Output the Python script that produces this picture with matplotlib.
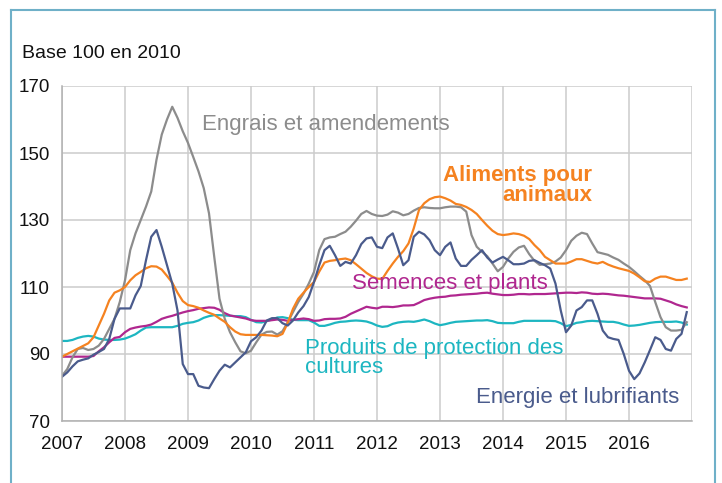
import matplotlib
matplotlib.use("Agg")
import matplotlib.pyplot as plt
from matplotlib.lines import Line2D
import numpy as np

plt.rcParams['font.family'] = ['Liberation Sans', 'DejaVu Sans']

years = [2007, 2008, 2009, 2010, 2011, 2012, 2013, 2014, 2015, 2016]
yticks = [70, 90, 110, 130, 150, 170]

engrais = [83.5, 85.5, 89, 91.5, 91.8, 91.2, 91.5, 92.5, 94.5, 97.5, 100.5, 105.5,
           112, 121, 126, 130, 134, 138.5, 148, 155.5, 160, 163.8, 160.5, 156.5,
           153, 148.8, 144.5, 139.5, 132, 119, 106.5, 100.5, 96.5, 93.5, 90.8, 90.2,
           91, 93.5, 95.8, 96.6, 96.7, 95.8, 96.8, 99.5, 102.5, 105.5, 108, 111,
           114.5, 121, 124.3, 124.8, 125, 125.8, 126.5, 128, 129.8, 131.8, 132.7, 131.8,
           131.3, 131.2, 131.6, 132.6, 132.2, 131.4, 131.8, 132.8, 133.6, 133.8, 133.6, 133.5,
           133.5, 133.8, 134, 134, 133.8, 132.5, 125.5, 122, 120.5, 119.2, 117, 114.7,
           116, 118.5, 120.5, 121.8, 122.3, 119.8, 117.8, 116.6, 116.8, 117, 117.6, 118.8,
           121, 123.8, 125.3, 126.2, 125.8, 123, 120.4, 120, 119.6, 118.8, 118.1, 117,
           116, 114.7, 113.3, 112, 110.3, 105.5, 101, 98, 97, 97, 97.2, 99.5]

aliments = [89.2, 90, 90.8, 91.6, 92.4, 93.2, 95, 98.5, 102, 106, 108.3, 109,
            110, 112, 113.5, 114.5, 115.6, 116.2, 116.1, 115.2, 113.3, 111.3, 108.3, 105.8,
            104.6, 104.3, 103.8, 103, 102.3, 101.7, 100.6, 99.6, 98, 96.7, 95.9, 95.7,
            95.7, 95.7, 95.7, 95.6, 95.5, 95.3, 96, 99.3, 103.5, 106.5, 108.3, 110,
            111.5, 114.6, 117.3, 117.8, 118, 118.3, 118.5, 118, 116.8, 115.5, 114.2, 113.2,
            112.5, 112.4, 114.8, 117, 119, 120.7, 123, 127.5, 133, 135, 136.2, 136.8,
            137, 136.5, 135.8, 134.8, 134.5, 133.9, 133, 131.8, 130, 128.3, 126.8, 125.8,
            125.5, 125.7, 126, 125.8, 125.3, 124.3, 122.5, 121, 119, 118, 117, 117,
            117, 117.6, 118.3, 118.3, 117.8, 117.3, 117, 117.5, 116.7, 116.1, 115.6, 115.2,
            114.8, 114, 112.9, 111.7, 111.5, 112.5, 113.1, 113.1, 112.6, 112.1, 112.1, 112.5]

energie = [83.2, 84.5, 86.3, 87.8, 88.3, 88.7, 89.8, 90.6, 91.5, 94.5, 100.5, 103.6,
           103.6, 103.6, 107.5, 110.3, 118, 125, 127, 122, 116.5, 111, 103, 87,
           84, 84, 80.5, 80, 79.8, 82.5, 85, 86.8, 86, 87.5, 89, 90.5,
           93.8, 95, 97, 100, 100.7, 100.7, 99.2, 98.5, 100, 102.4, 104.3, 107,
           111.5, 116.5, 121, 122.3, 119.5, 116.3, 117.5, 117, 119.5, 122.8, 124.5, 124.8,
           122, 121.6, 124.8, 126, 121.5, 116.5, 118, 125, 126.5, 125.7, 124, 121,
           119.5, 122, 123.3, 118.5, 116.3, 116.3, 118.1, 119.5, 121, 118.8, 117.3, 118.2,
           119, 118, 116.8, 116.8, 117, 117.8, 118, 117.2, 116.5, 115.5, 111, 103,
           96.5, 98.5, 103, 104, 106, 106, 102, 97, 95, 94.5, 94.2, 90,
           85, 82.5, 84.2, 87.5, 91.2, 95, 94.2, 91.5, 91, 94.5, 96, 102.5]

semences = [89.2, 89.2, 89.2, 89.2, 89.2, 89.2, 89.4, 90.8, 92, 93.5, 94.8, 95.1,
            96.5, 97.5, 97.9, 98.2, 98.4, 98.8, 99.6, 100.5, 101, 101.4, 101.9, 102.4,
            102.8, 103.1, 103.5, 103.7, 103.9, 103.8, 103.2, 102.2, 101.5, 101.2, 100.9, 100.6,
            100.1, 99.9, 99.9, 99.9, 100.1, 100.3, 100.2, 99.9, 100.2, 100.4, 100.6, 100.4,
            99.9, 100, 100.4, 100.5, 100.5, 100.6, 101.1, 102, 102.7, 103.4, 104.1, 103.8,
            103.6, 104.1, 104.1, 104, 104.2, 104.5, 104.5, 104.6, 105.3, 106.1, 106.5, 106.8,
            107, 107.1, 107.4, 107.5, 107.7, 107.8, 107.9, 108, 108.2, 108.3, 108, 107.8,
            107.6, 107.6, 107.7, 107.9, 107.9, 107.8, 107.9, 107.9, 107.9, 108, 108.1, 108.2,
            108.3, 108.3, 108.2, 108.4, 108.3, 108, 107.9, 108, 107.9, 107.7, 107.5, 107.4,
            107.2, 107, 106.8, 106.6, 106.6, 106.6, 106.5, 106, 105.5, 104.8, 104.3, 103.9]

produits = [93.9, 93.9, 94.2, 94.8, 95.2, 95.4, 95.2, 94.6, 94.3, 94.2, 94.2, 94.3,
            94.6, 95.2, 95.9, 97, 97.9, 98, 98, 98, 98, 98, 98.4, 99,
            99.3, 99.5, 100, 100.8, 101.3, 101.6, 101.6, 101.5, 101.4, 101.3, 101.3, 101,
            100.2, 99.5, 99.4, 99.8, 100.3, 100.9, 101, 100.7, 100.2, 100.1, 100.1, 100.1,
            99.4, 98.4, 98.4, 98.8, 99.3, 99.6, 99.7, 99.9, 100, 99.9, 99.7, 99.2,
            98.5, 98.1, 98.3, 99, 99.4, 99.6, 99.7, 99.6, 99.9, 100.3, 99.8, 99.1,
            98.6, 98.9, 99.3, 99.6, 99.7, 99.8, 99.9, 100, 100, 100.1, 99.8, 99.3,
            99.2, 99.2, 99.2, 99.6, 99.9, 99.9, 99.9, 99.9, 99.9, 99.9, 99.8, 99.2,
            98.3, 98.7, 99.3, 99.5, 99.8, 99.9, 99.8, 99.7, 99.6, 99.6, 99.3, 98.8,
            98.4, 98.5, 98.7, 99, 99.3, 99.5, 99.6, 99.6, 99.6, 99.7, 99.4, 98.8]

t = 2007 + np.arange(len(engrais)) / 12.0

C_GRAY = '#8c8c8c'
C_ORANGE = '#f58220'
C_MAG = '#b0278f'
C_CYAN = '#1db6c1'
C_BLUE = '#4a5b8c'

W, H = 722, 483
fig = plt.figure(figsize=(W / 100, H / 100), dpi=100)
ax = fig.add_axes([62 / W, 62 / H, 630 / W, 335 / H])

ax.plot(t, produits, color=C_CYAN, lw=1.6)
ax.plot(t, semences, color=C_MAG, lw=1.6)
ax.plot(t, engrais, color=C_GRAY, lw=1.6)
ax.plot(t, aliments, color=C_ORANGE, lw=1.6)
ax.plot(t, energie, color=C_BLUE, lw=1.6)

ax.set_xlim(2007, 2017)
ax.set_ylim(70, 170)
ax.set_yticks(yticks)
ax.set_yticklabels([str(v) for v in yticks], fontsize=13.5)
ax.set_xticks(years + [2017])
ax.set_xticklabels([str(y) for y in years] + [''], fontsize=13.5)
ax.tick_params(axis='both', length=0, colors='#111111')
ax.tick_params(axis='y', pad=9)
ax.tick_params(axis='x', pad=11)
ax.grid(True, color='#cccccc', lw=1.1)
ax.set_axisbelow(True)
for s in ['top', 'right']:
    ax.spines[s].set_visible(False)
for s in ['left', 'bottom']:
    ax.spines[s].set_color('#b0b0b0')
    ax.spines[s].set_linewidth(1.1)

FS = 16
ax.text(2009.22, 158.5, 'Engrais et amendements', color=C_GRAY, fontsize=FS,
        va='center', ha='left')
ax.text(2015.42, 140.2, 'Aliments pour\nanimaux', color=C_ORANGE, fontsize=FS,
        fontweight='bold', va='center', ha='right', multialignment='right',
        linespacing=0.95)
ax.text(2011.6, 110.9, 'Semences et plants', color=C_MAG, fontsize=FS,
        va='center', ha='left')
ax.text(2010.86, 88.8, 'Produits de protection des\ncultures', color=C_CYAN,
        fontsize=FS, va='center', ha='left', linespacing=0.92)
ax.text(2013.57, 77.0, 'Energie et lubrifiants', color=C_BLUE, fontsize=FS,
        va='center', ha='left')

fig.text(22 / W, 1 - 53 / H, 'Base 100 en 2010', fontsize=14, color='#111111',
         va='center', ha='left')

# frame
bc = '#6fb0c8'
fig.add_artist(Line2D([11 / W, 11 / W], [-0.01, 1 - 10 / H], transform=fig.transFigure, color=bc, lw=1.5))
fig.add_artist(Line2D([11 / W, 715 / W], [1 - 10 / H, 1 - 10 / H], transform=fig.transFigure, color=bc, lw=1.5))
fig.add_artist(Line2D([715 / W, 715 / W], [-0.01, 1 - 10 / H], transform=fig.transFigure, color=bc, lw=1.5))

fig.savefig('out.png', dpi=100)
